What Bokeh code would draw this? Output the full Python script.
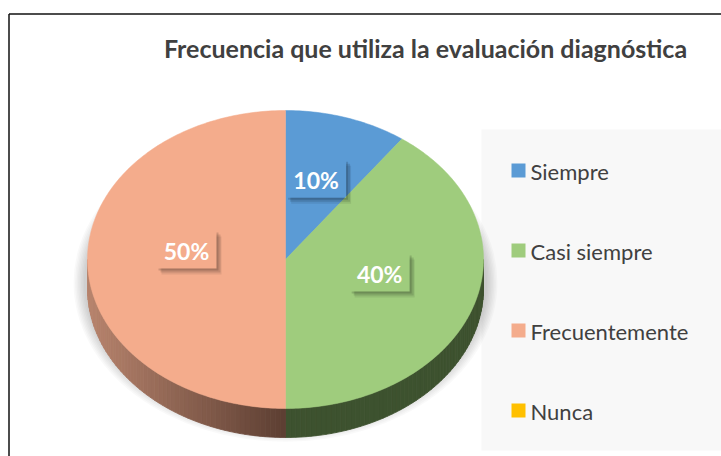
import numpy as np
from bokeh.plotting import figure
from bokeh.models import Range1d
from bokeh.embed import file_html
from bokeh.resources import INLINE
from bokeh.core.properties import value

# ---- data ----
chart_title = "Frecuencia que utiliza la evaluación diagnóstica"
categories = ["Siempre", "Casi siempre", "Frecuentemente", "Nunca"]
values = [10, 40, 50, 0]
colors = ["#5B9BD5", "#9FCC7D", "#F4AC8C", "#FFC000"]
side_light = ["#3A6490", "#45603A", "#B8846D", "#A07A00"]
side_dark = ["#2E4F73", "#3D522F", "#5C3E32", "#806000"]

FONT = "Lato"
W, H = 721, 456
p = figure(width=W, height=H, x_range=Range1d(0, W), y_range=Range1d(H, 0),
           output_backend="svg", toolbar_location=None, min_border=0,
           x_axis_location=None, y_axis_location=None)
p.grid.visible = False
p.outline_line_color = None
p.background_fill_color = "white"
p.border_fill_color = "white"

# frame (cropped at right/bottom)
p.line([8.5, W], [13.5, 13.5], line_color="#111111", line_width=1.5)
p.line([8.5, 8.5], [13.5, H], line_color="#111111", line_width=1.5)

# title
p.text([425], [47], text=[chart_title], text_align="center", text_baseline="middle",
       text_font=value(FONT), text_font_style="bold", text_font_size="25px",
       text_color="#404040")

# legend panel
p.quad(left=[481], right=[W], top=[129], bottom=[450], fill_color="#F8F8F8", line_color=None)
leg_y = [170 + 80 * i for i in range(len(categories))]
p.rect(x=[518] * len(categories), y=leg_y, width=14, height=14, fill_color=colors, line_color=None)
p.text(x=[530] * len(categories), y=[y + 1 for y in leg_y], text=categories, text_align="left",
       text_baseline="middle", text_font=value(FONT), text_font_size="22px", text_color="#404040")

# pie geometry
cx, cy, rx, ry, depth = 285, 259, 198, 149, 29

def pt(theta_deg, dy=0.0):
    t = np.radians(theta_deg)
    return cx + rx * np.sin(t), cy - ry * np.cos(t) + dy

# shadow
for i in range(8):
    p.ellipse(x=[cx], y=[cy + depth * 0.7 + 3], width=[2 * rx + 28 - 3 * i], height=[2 * ry + 20 - 3 * i],
              fill_color="#000000", fill_alpha=0.025, line_color=None)

total = float(sum(values))
bounds = np.concatenate([[0], np.cumsum(values)]) / total * 360.0

def hex2rgb(h):
    h = h.lstrip("#")
    return np.array([int(h[i:i + 2], 16) for i in (0, 2, 4)], dtype=float)

def rgb2hex(c):
    return "#%02x%02x%02x" % tuple(int(round(v)) for v in c)

# sides (visible front half: theta 90..270)
for i, v in enumerate(values):
    if v <= 0:
        continue
    a0, a1 = max(bounds[i], 90), min(bounds[i + 1], 270)
    if a1 <= a0:
        continue
    steps = np.linspace(a0, a1, int((a1 - a0) / 1.5) + 2)
    cl, cd = hex2rgb(side_light[i]), hex2rgb(side_dark[i])
    xs_list, ys_list, cols = [], [], []
    for s0, s1 in zip(steps[:-1], steps[1:]):
        x0, y0 = pt(s0)
        x1, y1 = pt(s1)
        xm = 0.5 * (x0 + x1)
        t = np.clip((xm - (cx - rx)) / rx, 0, 1) if xm < cx else 1.0
        col = cl + (cd - cl) * t
        xs_list.append([x0, x1, x1, x0])
        ys_list.append([y0, y1, y1 + depth, y0 + depth])
        cols.append(rgb2hex(col))
    p.patches(xs_list, ys_list, fill_color=cols, line_color=cols, line_width=0.8)

# top face
for i, v in enumerate(values):
    if v <= 0:
        continue
    th = np.linspace(bounds[i], bounds[i + 1], max(int((bounds[i + 1] - bounds[i]) / 1.0), 2) + 1)
    ex, ey = pt(th)
    p.patch(np.concatenate([[cx], ex]), np.concatenate([[cy], ey]),
            fill_color=colors[i], line_color=colors[i], line_width=0.5)

# data labels
bw, bh = 60, 38
for i, v in enumerate(values):
    if v <= 0:
        continue
    mid = 0.5 * (bounds[i] + bounds[i + 1])
    t = np.radians(mid)
    lx = cx + 0.5 * rx * np.sin(t)
    ly = cy - 0.5 * ry * np.cos(t) - 10
    l, r, tp, b = lx - bw / 2, lx + bw / 2, ly - bh / 2, ly + bh / 2
    for (dx, dy, al) in [(5, 6, 0.08), (4, 4, 0.12), (2, 2, 0.15)]:
        p.patch([r, r + dx, r + dx, l + dx, l + dx, r],
                [tp + dy, tp + dy, b + dy, b + dy, b, b],
                fill_color="#000000", fill_alpha=al, line_color=None)
    p.text([lx], [ly + 1], text=["%d%%" % round(v / total * 100)], text_align="center",
           text_baseline="middle", text_font=value(FONT), text_font_style="bold",
           text_font_size="23px", text_color="white")

open("out.html", "w").write(file_html(p, INLINE))
